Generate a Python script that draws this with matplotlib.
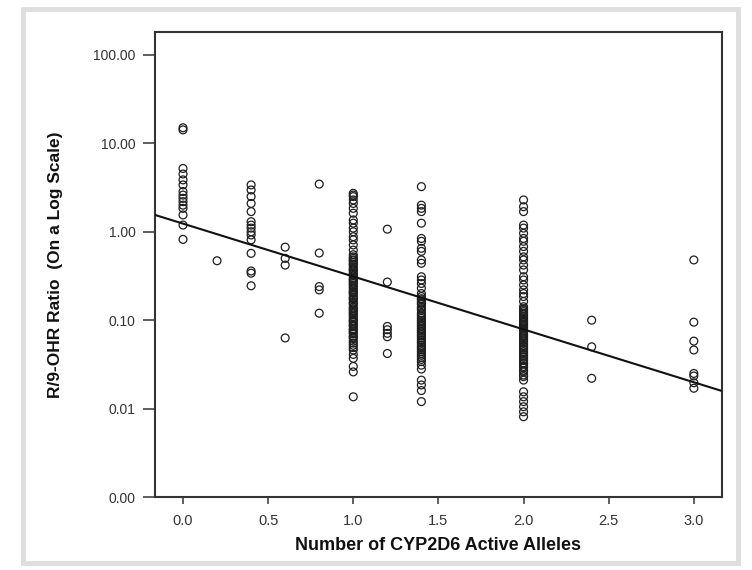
import numpy as np
import matplotlib
matplotlib.use("Agg")
import matplotlib.pyplot as plt
from matplotlib.patches import Rectangle

# R/9-OHR ratio, grouped by number of active CYP2D6 alleles
alleles = [0.0, 0.2, 0.4, 0.6, 0.8, 1.0, 1.2, 1.4, 2.0, 2.4, 3.0]

ratio_00 = [15.0, 14.2, 5.2, 4.5, 3.86, 3.39, 2.85, 2.6, 2.39, 2.19, 2.0, 1.84,
            1.55, 1.19, 0.82]
ratio_02 = [0.47]
ratio_04 = [3.39, 2.97, 2.5, 2.09, 1.69, 1.3, 1.19, 1.1, 1.0, 0.92, 0.81, 0.57,
            0.36, 0.34, 0.245]
ratio_06 = [0.67, 0.50, 0.42, 0.063]
ratio_08 = [3.46, 0.575, 0.24, 0.22, 0.12]
ratio_10 = [2.72, 2.6, 2.5, 2.29, 2.09, 1.84, 1.62, 1.36, 1.25, 1.1, 1.0, 0.88,
            0.81, 0.71, 0.62, 0.55, 0.52, 0.50, 0.48, 0.47, 0.45, 0.43, 0.42,
            0.40, 0.38, 0.37, 0.36, 0.34, 0.33, 0.32, 0.30, 0.29, 0.28, 0.27,
            0.26, 0.25, 0.24, 0.23, 0.22, 0.21, 0.205, 0.20, 0.19, 0.18, 0.175,
            0.17, 0.16, 0.155, 0.15, 0.14, 0.135, 0.13, 0.125, 0.12, 0.115,
            0.11, 0.105, 0.10, 0.097, 0.095, 0.09, 0.087, 0.085, 0.08, 0.078,
            0.075, 0.072, 0.07, 0.066, 0.064, 0.062, 0.058, 0.055, 0.052, 0.049,
            0.046, 0.041, 0.037, 0.030, 0.026, 0.0136]
ratio_12 = [1.07, 0.27, 0.085, 0.078, 0.071, 0.065, 0.042]
ratio_14 = [3.24, 2.0, 1.84, 1.69, 1.25, 0.84, 0.78, 0.65, 0.60, 0.48, 0.44,
            0.31, 0.285, 0.26, 0.23, 0.20, 0.185, 0.175, 0.17, 0.16, 0.155,
            0.15, 0.14, 0.135, 0.13, 0.12, 0.115, 0.11, 0.105, 0.10, 0.096,
            0.092, 0.088, 0.085, 0.081, 0.078, 0.075, 0.072, 0.069, 0.066,
            0.063, 0.06, 0.057, 0.055, 0.052, 0.05, 0.048, 0.046, 0.044, 0.042,
            0.04, 0.038, 0.036, 0.034, 0.031, 0.028, 0.021, 0.0185, 0.016,
            0.012]
ratio_20 = [2.29, 1.92, 1.69, 1.19, 1.1, 0.96, 0.84, 0.78, 0.68, 0.60, 0.52,
            0.48, 0.42, 0.37, 0.31, 0.285, 0.25, 0.22, 0.20, 0.185, 0.163,
            0.142, 0.135, 0.13, 0.125, 0.12, 0.115, 0.11, 0.105, 0.10, 0.097,
            0.094, 0.091, 0.088, 0.085, 0.082, 0.079, 0.076, 0.073, 0.07,
            0.067, 0.065, 0.062, 0.06, 0.057, 0.055, 0.052, 0.05, 0.048, 0.046,
            0.044, 0.042, 0.04, 0.038, 0.036, 0.035, 0.033, 0.032, 0.03, 0.029,
            0.027, 0.026, 0.024, 0.023, 0.021, 0.0155, 0.0136, 0.012, 0.0105,
            0.0092, 0.0081]
ratio_24 = [0.10, 0.05, 0.022]
ratio_30 = [0.48, 0.095, 0.058, 0.046, 0.025, 0.0234, 0.0196, 0.017]

ratios = [ratio_00, ratio_02, ratio_04, ratio_06, ratio_08, ratio_10, ratio_12,
          ratio_14, ratio_20, ratio_24, ratio_30]

# fitted line: log10(ratio) = fit_intercept + fit_slope * alleles
fit_intercept = 0.092
fit_slope = -0.598

y_ticks = [0.001, 0.01, 0.1, 1, 10, 100]
x_ticks = [0.0, 0.5, 1.0, 1.5, 2.0, 2.5, 3.0]

xs = np.concatenate([[a] * len(r) for a, r in zip(alleles, ratios)])
ys = np.concatenate(ratios)

plt.rcParams['font.family'] = ['Liberation Sans', 'DejaVu Sans']

fig = plt.figure(figsize=(7.52, 5.70), dpi=100)
fig.patches.append(Rectangle((0.03, 0.012), 0.952, 0.973, transform=fig.transFigure,
                             fill=False, edgecolor='#dedede', linewidth=3.5))
ax = fig.add_axes([0.206, 0.128, 0.754, 0.816])

ax.scatter(xs, ys, s=32, facecolors='none', edgecolors='#1e1e1e', linewidths=0.9,
           zorder=3)

ax.set_yscale('log')
ax.set_xlim(-0.165, 3.165)
ax.set_ylim(0.001, 182)

xl = np.array(ax.get_xlim())
ax.plot(xl, 10 ** (fit_intercept + fit_slope * xl), color='#111111', linewidth=1.5,
        zorder=4)

ax.yaxis.set_major_locator(matplotlib.ticker.FixedLocator(y_ticks))
ax.yaxis.set_minor_locator(matplotlib.ticker.NullLocator())
ax.set_yticklabels(['%.2f' % v for v in y_ticks])
ax.set_xticks(x_ticks)
ax.set_xticklabels(['%.1f' % v for v in x_ticks])

for sp in ax.spines.values():
    sp.set_color('#333333')
    sp.set_linewidth(1.5)

ax.tick_params(axis='y', length=9, width=1.2, color='#444444', labelsize=10,
               labelcolor='#333333', pad=5)
ax.tick_params(axis='x', length=5, width=1.2, color='#444444', labelsize=10.5,
               labelcolor='#333333', pad=7)

ax.set_xlabel('Number of CYP2D6 Active Alleles', fontsize=13, fontweight='bold',
              color='#111111', labelpad=7)
ax.set_ylabel('R/9-OHR Ratio  (On a Log Scale)', fontsize=12.5, fontweight='bold',
              color='#111111', labelpad=22)

plt.savefig('out.png', dpi=100)
